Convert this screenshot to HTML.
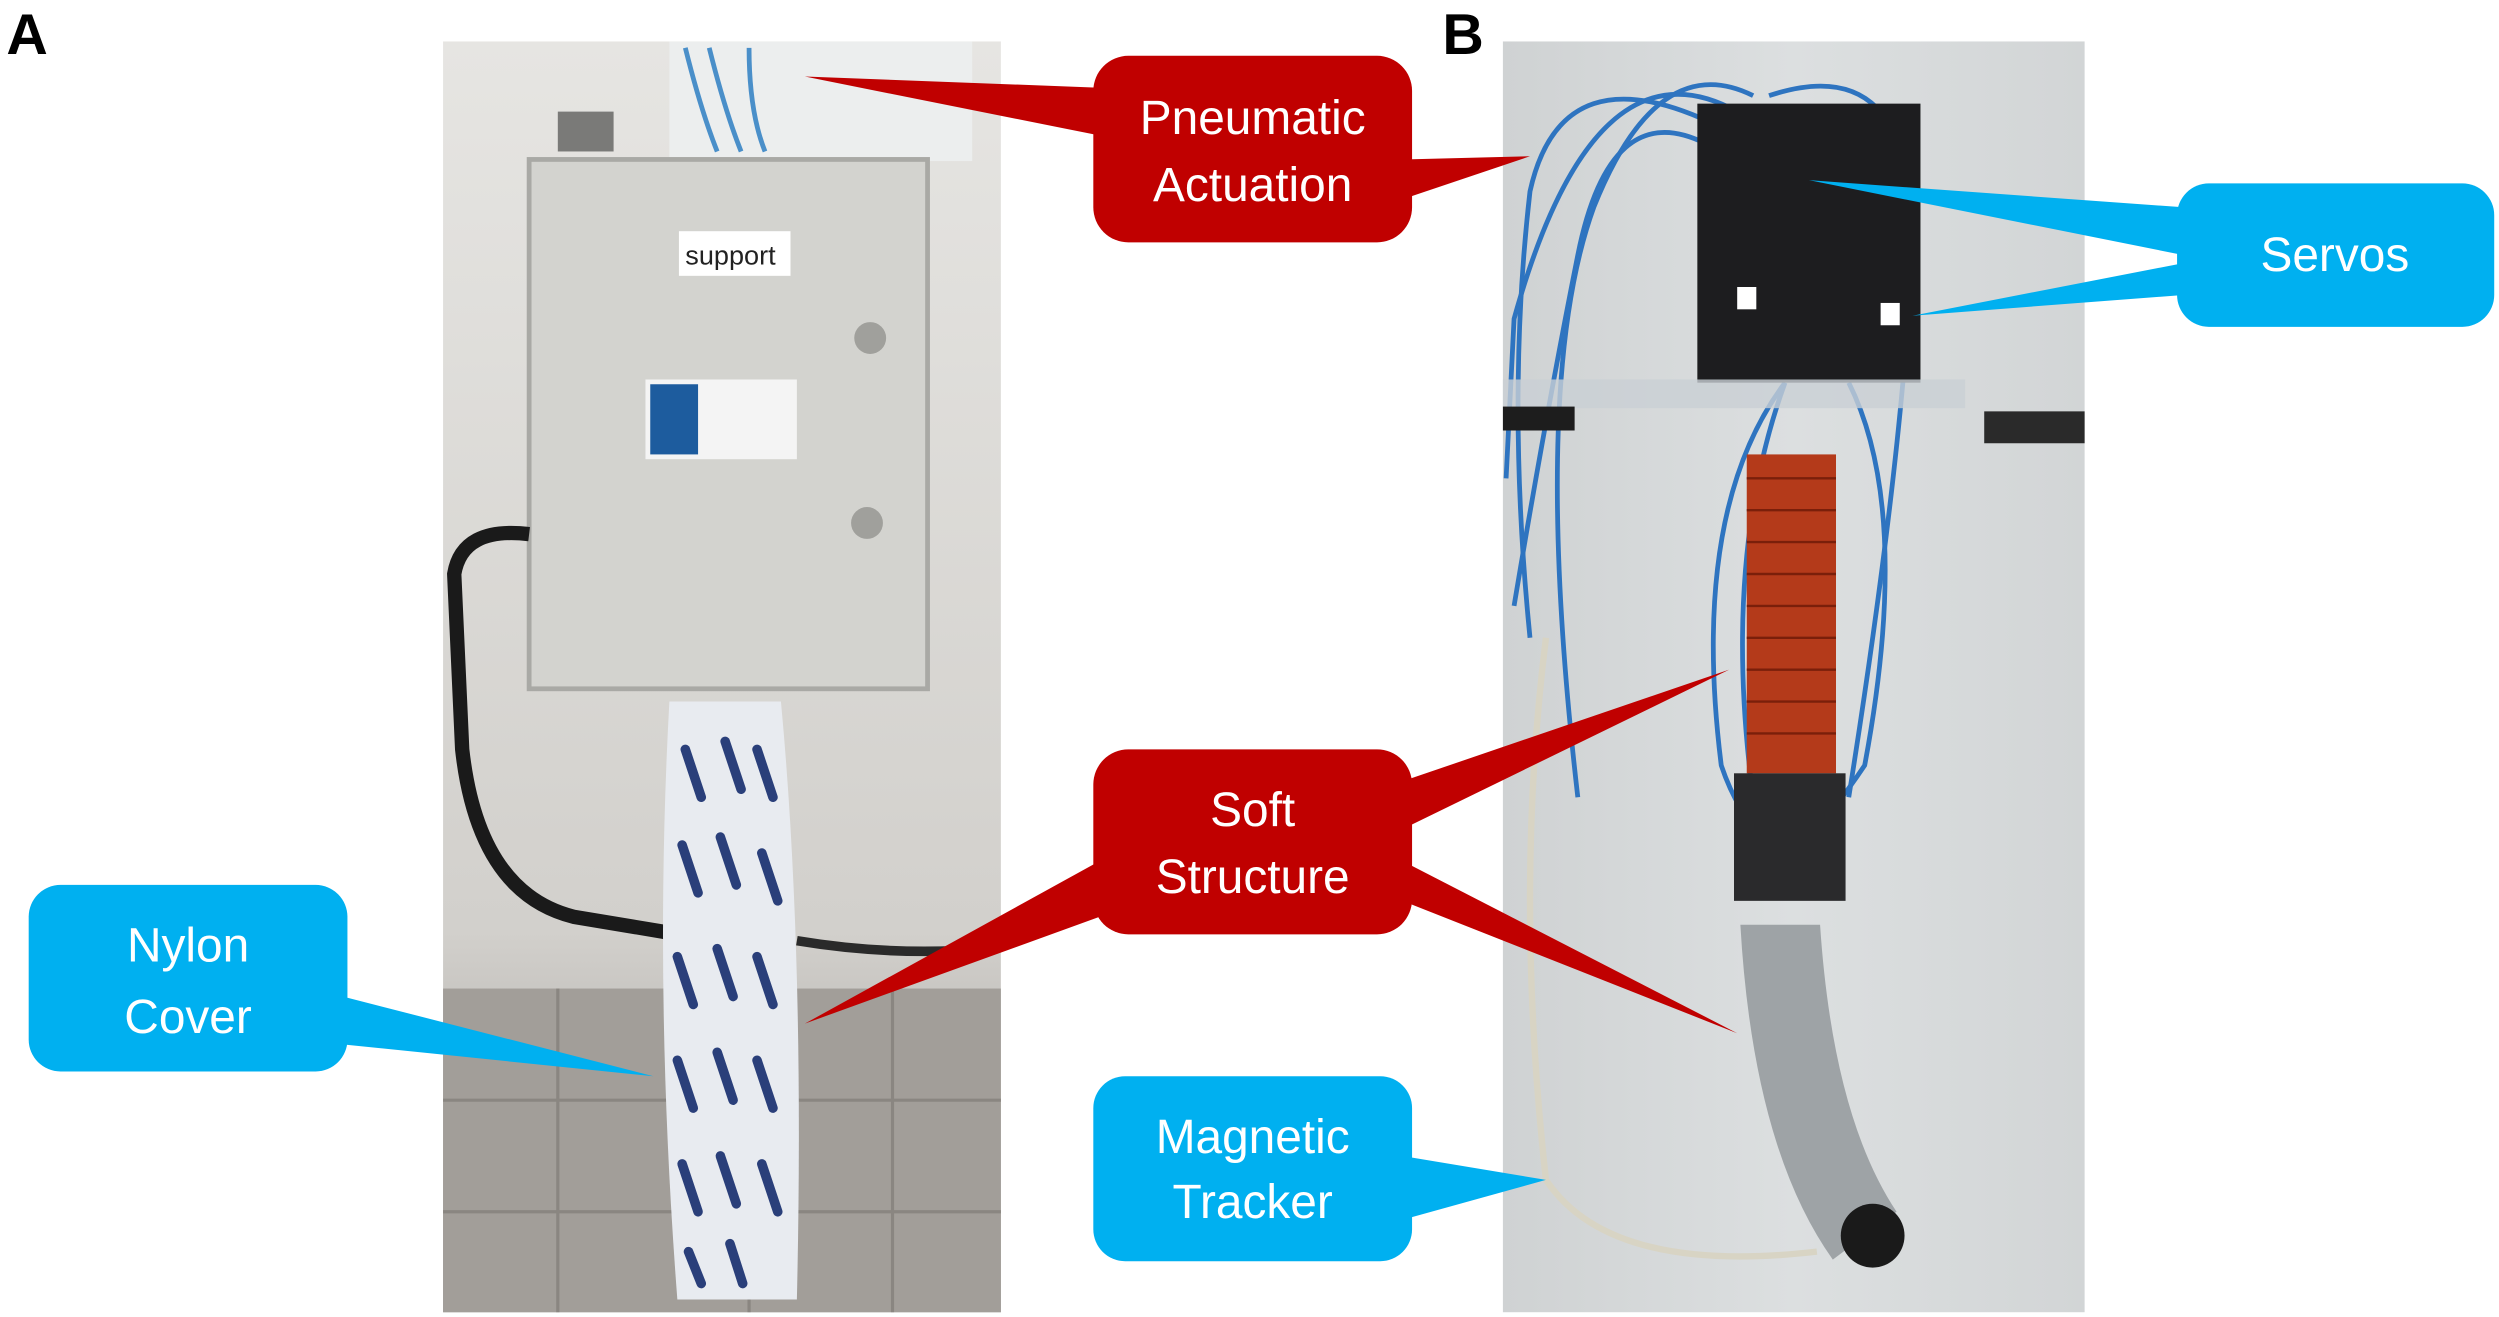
<!DOCTYPE html>
<html><head><style>html,body{margin:0;padding:0;background:#fff}svg{display:block}</style></head>
<body>
<svg width="2499" height="1317" viewBox="0 0 1568 826" preserveAspectRatio="none" xmlns="http://www.w3.org/2000/svg" font-family="'Liberation Sans', sans-serif">
<rect width="1568" height="826" fill="#fff"/>
<!-- Photo A -->
<defs>
<linearGradient id="wallA" x1="0" y1="0" x2="0" y2="1">
<stop offset="0" stop-color="#e6e5e2"/><stop offset="0.7" stop-color="#d2d0cc"/><stop offset="1" stop-color="#9c9894"/></linearGradient>
<linearGradient id="wallB" x1="0" y1="0" x2="1" y2="0">
<stop offset="0" stop-color="#cfd2d3"/><stop offset="0.5" stop-color="#dcdfe0"/><stop offset="1" stop-color="#d2d5d6"/></linearGradient>
</defs>
<rect x="278" y="26" width="350" height="797" fill="url(#wallA)"/>
<rect x="278" y="620" width="350" height="203" fill="#a29e99"/>
<g stroke="#8a8681" stroke-width="2">
<line x1="278" y1="690" x2="628" y2="690"/><line x1="278" y1="760" x2="628" y2="760"/>
<line x1="350" y1="620" x2="350" y2="823"/><line x1="470" y1="620" x2="470" y2="823"/><line x1="560" y1="620" x2="560" y2="823"/>
</g>
<rect x="420" y="26" width="190" height="75" fill="#eceeee"/>
<path d="M430 30 Q440 70 450 95 M445 30 Q455 70 465 95 M470 30 Q470 70 480 95" stroke="#4a8fc9" stroke-width="3" fill="none"/>
<rect x="350" y="70" width="35" height="25" fill="#7a7a78"/>
<rect x="332" y="100" width="250" height="332" fill="#d3d3cf" stroke="#a9a9a5" stroke-width="3"/>
<rect x="426" y="145" width="70" height="28" fill="#fff"/>
<text x="430" y="166" font-size="17" fill="#222">support</text>
<rect x="405" y="238" width="95" height="50" fill="#f4f4f4"/>
<rect x="408" y="241" width="30" height="44" fill="#1d5c9e"/>
<circle cx="546" cy="212" r="10" fill="#a0a09c"/><circle cx="544" cy="328" r="10" fill="#a0a09c"/>
<path d="M332 335 Q290 330 285 360 L290 470 Q300 560 360 575 L420 585" stroke="#1a1a1a" stroke-width="9" fill="none"/>
<path d="M500 590 Q560 600 620 595" stroke="#2a2a2a" stroke-width="6" fill="none"/>
<path d="M420 440 L490 440 Q505 600 500 815 L425 815 Q410 620 420 440 Z" fill="#e8ebf0"/>
<g stroke="#2a3f7a" stroke-width="6" stroke-linecap="round">
<line x1="430" y1="470" x2="440" y2="500"/><line x1="455" y1="465" x2="465" y2="495"/><line x1="475" y1="470" x2="485" y2="500"/>
<line x1="428" y1="530" x2="438" y2="560"/><line x1="452" y1="525" x2="462" y2="555"/><line x1="478" y1="535" x2="488" y2="565"/>
<line x1="425" y1="600" x2="435" y2="630"/><line x1="450" y1="595" x2="460" y2="625"/><line x1="475" y1="600" x2="485" y2="630"/>
<line x1="425" y1="665" x2="435" y2="695"/><line x1="450" y1="660" x2="460" y2="690"/><line x1="475" y1="665" x2="485" y2="695"/>
<line x1="428" y1="730" x2="438" y2="760"/><line x1="452" y1="725" x2="462" y2="755"/><line x1="478" y1="730" x2="488" y2="760"/>
<line x1="432" y1="785" x2="440" y2="805"/><line x1="458" y1="780" x2="466" y2="805"/>
</g>
<!-- Photo B -->
<rect x="943" y="26" width="365" height="797" fill="url(#wallB)"/>
<g stroke="#2e74c0" stroke-width="3" fill="none">
<path d="M1080 80 Q980 30 960 120 Q945 250 960 400"/>
<path d="M1090 70 Q1000 20 950 200 L945 300"/>
<path d="M1070 90 Q1010 60 990 160 Q970 260 950 380"/>
<path d="M1100 60 Q1040 30 1000 130 Q960 240 990 500"/>
<path d="M1110 60 Q1200 30 1200 150 Q1195 280 1160 500"/>
<path d="M1120 240 Q1060 320 1080 480 Q1090 510 1110 530"/>
<path d="M1160 240 Q1200 320 1170 480 Q1150 510 1130 530"/>
<path d="M1120 240 Q1080 350 1100 500"/>
</g>
<rect x="1065" y="65" width="140" height="175" fill="#1d1d1f"/>
<rect x="1090" y="180" width="12" height="14" fill="#fff"/><rect x="1180" y="190" width="12" height="14" fill="#fff"/>
<rect x="943" y="238" width="290" height="18" fill="#c9cfd4" opacity="0.8"/>
<rect x="943" y="255" width="45" height="15" fill="#1d1d1d"/>
<rect x="1245" y="258" width="63" height="20" fill="#2a2a2a"/>
<rect x="1096" y="285" width="56" height="200" fill="#b43a1a"/>
<g stroke="#7a1f0a" stroke-width="1.5">
<line x1="1096" y1="300" x2="1152" y2="300"/><line x1="1096" y1="320" x2="1152" y2="320"/><line x1="1096" y1="340" x2="1152" y2="340"/><line x1="1096" y1="360" x2="1152" y2="360"/><line x1="1096" y1="380" x2="1152" y2="380"/><line x1="1096" y1="400" x2="1152" y2="400"/><line x1="1096" y1="420" x2="1152" y2="420"/><line x1="1096" y1="440" x2="1152" y2="440"/><line x1="1096" y1="460" x2="1152" y2="460"/>
</g>
<rect x="1088" y="485" width="70" height="80" fill="#2a2a2c"/>
<path d="M1092 580 L1142 580 Q1150 700 1190 760 L1150 790 Q1100 720 1092 580 Z" fill="#9ea3a6"/>
<circle cx="1175" cy="775" r="20" fill="#1a1a1a"/>
<path d="M970 400 Q950 560 970 740 Q1010 800 1140 785" stroke="#d8d4c4" stroke-width="4" fill="none"/>
<!-- Red callouts -->
<g fill="#c00000">
<polygon points="690,55 505,48 690,85"/>
<polygon points="880,100 960,98 880,125"/>
<rect x="686" y="35" width="200" height="117" rx="22"/>
<polygon points="690,540 505,642 690,575"/>
<polygon points="880,490 1085,420 880,520"/>
<polygon points="880,540 1090,648 880,565"/>
<rect x="686" y="470" width="200" height="116" rx="22"/>
</g>
<!-- Blue callouts -->
<g fill="#00b0f0">
<polygon points="1370,130 1135,113 1370,160"/>
<polygon points="1370,165 1200,198 1370,185"/>
<rect x="1366" y="115" width="199" height="90" rx="20"/>
<polygon points="215,625 410,675 215,655"/>
<rect x="18" y="555" width="200" height="117" rx="20"/>
<polygon points="880,725 970,740 880,765"/>
<rect x="686" y="675" width="200" height="116" rx="20"/>
</g>
<g fill="#fff" font-size="30" text-anchor="middle">
<text x="786" y="84">Pneumatic</text><text x="786" y="126">Actuation</text>
<text x="786" y="518">Soft</text><text x="786" y="560">Structure</text>
<text x="1465" y="170">Servos</text>
<text x="118" y="603">Nylon</text><text x="118" y="648">Cover</text>
<text x="786" y="723">Magnetic</text><text x="786" y="764">Tracker</text>
</g>
<text x="4" y="34" font-size="36" font-weight="bold" fill="#000">A</text>
<text x="905" y="34" font-size="36" font-weight="bold" fill="#000">B</text>
</svg>
</body></html>
